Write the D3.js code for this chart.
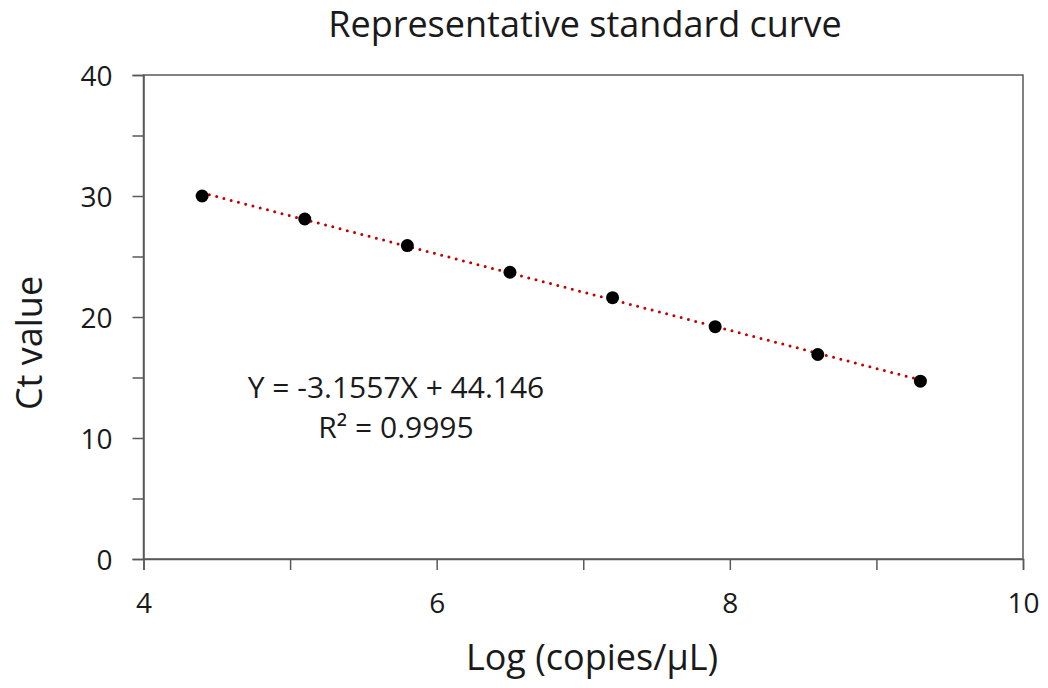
<!DOCTYPE html>
<html>
<head>
<meta charset="utf-8">
<script src="https://cdn.jsdelivr.net/npm/d3@7"></script>
<style>
  body { margin: 0; background: #fff; }
  text { font-family: "Open Sans", "Noto Sans", sans-serif; fill: #1a1a1a; }
</style>
</head>
<body>
<div id="chart"></div>
<script>
var logCopies = [4.4, 5.1, 5.8, 6.5, 7.2, 7.9, 8.6, 9.3];
var ctValues = [30.0, 28.1, 25.9, 23.7, 21.6, 19.2, 16.9, 14.7];
var slope = -3.1557, intercept = 44.146;
var xTicks = [4, 5, 6, 7, 8, 9, 10];
var yTicks = [0, 5, 10, 15, 20, 25, 30, 35, 40];

var width = 1048, height = 688;
var margin = {top: 75, right: 25, bottom: 129, left: 143.5};

var svg = d3.select("#chart").append("svg")
  .attr("width", width)
  .attr("height", height);

var x = d3.scaleLinear().domain([4, 10]).range([margin.left, width - margin.right]);
var y = d3.scaleLinear().domain([0, 40]).range([height - margin.bottom, margin.top]);

// plot frame
svg.append("rect")
  .attr("x", x(4)).attr("y", y(40))
  .attr("width", x(10) - x(4)).attr("height", y(0) - y(40))
  .attr("fill", "none")
  .attr("stroke", "#595959")
  .attr("stroke-width", 1.5);

var xAxis = svg.append("g")
  .attr("transform", "translate(0," + y(0) + ")")
  .call(d3.axisBottom(x).tickValues(xTicks).tickSize(11)
    .tickFormat(function(d) { return d % 2 === 0 ? d : ""; }));

var yAxis = svg.append("g")
  .attr("transform", "translate(" + x(4) + ",0)")
  .call(d3.axisLeft(y).tickValues(yTicks).tickSize(11)
    .tickFormat(function(d) { return d % 10 === 0 ? d : ""; }));

[xAxis, yAxis].forEach(function(a) {
  a.select(".domain").attr("stroke", "#595959").attr("stroke-width", 1.5);
  a.selectAll(".tick line").attr("stroke", "#595959").attr("stroke-width", 1.5);
  a.selectAll(".tick text").attr("font-size", 28).attr("fill", "#1a1a1a");
});
xAxis.selectAll(".tick text").attr("y", 54).attr("dy", 0);
yAxis.selectAll(".tick text").attr("x", -31).attr("dy", "0.37em");

// trendline
svg.append("line")
  .attr("x1", x(logCopies[0])).attr("y1", y(slope * logCopies[0] + intercept))
  .attr("x2", x(logCopies[logCopies.length - 1]))
  .attr("y2", y(slope * logCopies[logCopies.length - 1] + intercept))
  .attr("stroke", "#c00000")
  .attr("stroke-width", 3)
  .attr("stroke-dasharray", "0 7.5")
  .attr("stroke-linecap", "round");

svg.selectAll(".pt")
  .data(logCopies)
  .enter().append("circle")
  .attr("class", "pt")
  .attr("cx", function(d) { return x(d); })
  .attr("cy", function(d, i) { return y(ctValues[i]); })
  .attr("r", 6.5)
  .attr("fill", "#000");

// equation labels
svg.append("text")
  .attr("x", 396).attr("y", 398)
  .attr("text-anchor", "middle").attr("font-size", 30)
  .text("Y = -3.1557X + 44.146");
svg.append("text")
  .attr("x", 396).attr("y", 438)
  .attr("text-anchor", "middle").attr("font-size", 30)
  .text("R² = 0.9995");

// titles
svg.append("text")
  .attr("x", 585).attr("y", 37)
  .attr("text-anchor", "middle").attr("font-size", 36)
  .text("Representative standard curve");

svg.append("text")
  .attr("x", 592).attr("y", 670)
  .attr("text-anchor", "middle").attr("font-size", 36)
  .text("Log (copies/μL)");

svg.append("text")
  .attr("transform", "translate(42,343) rotate(-90)")
  .attr("text-anchor", "middle").attr("font-size", 36)
  .text("Ct value");
</script>
</body>
</html>
